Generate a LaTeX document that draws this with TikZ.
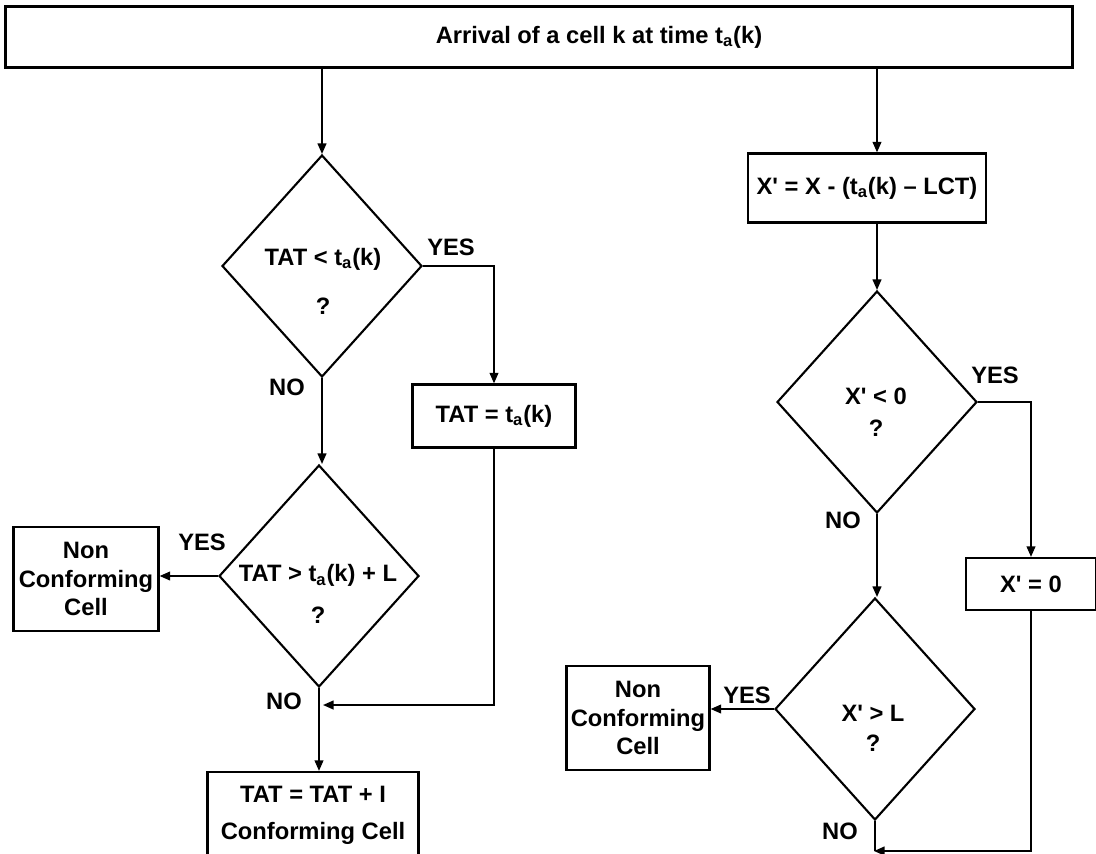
\documentclass[tikz,border=0pt]{standalone}
\usepackage{fontspec}
\setmainfont{Liberation Sans}
\usetikzlibrary{arrows.meta, shapes.geometric}

\newcommand{\pr}{\textquotesingle}

\tikzset{
    txt/.style={font=\fontsize{13.5}{16}\selectfont\bfseries, align=center},
    box/.style={draw, line width=1.3pt, inner sep=0pt, txt},
    decision/.style={draw, diamond, line width=1.2pt, inner sep=0pt, minimum width=4cm, minimum height=4.44cm},
    arr/.style={-{Triangle[length=6pt, width=5pt]}, line width=0.9pt},
    link/.style={line width=0.9pt},
}

\begin{document}
\begin{tikzpicture}[x=0.02cm, y=-0.02cm]
    \useasboundingbox (0,0) rectangle (1096,853);

    % boxes
    \node[box, line width=1.6pt, minimum width=21.36cm, minimum height=1.22cm] at (539,37) (arrival) {\hspace*{2.4cm}Arrival of a cell k at time t\textsubscript{a}(k)};
    \node[box, minimum width=3.26cm, minimum height=1.26cm] at (494,416) (tset) {TAT = t\textsubscript{a}(k)};
    \node[box, minimum width=2.9cm, minimum height=2.08cm] at (86,579) (ncca) {Non\\Conforming\\Cell};
    \node[box, minimum width=4.22cm, minimum height=1.72cm] at (313,815) (upd) {TAT = TAT + I\\[5pt]Conforming Cell};
    \node[box, minimum width=4.76cm, minimum height=1.38cm] at (867,188) (xcalc) {X\pr{} = X - (t\textsubscript{a}(k) -- LCT)};
    \node[box, minimum width=2.6cm, minimum height=1.04cm] at (1031,584) (xzero) {X\pr{} = 0};
    \node[box, minimum width=2.86cm, minimum height=2.08cm] at (638,718) (nccb) {Non\\Conforming\\Cell};

    % decisions
    \node[decision] at (322,266) (da) {};
    \node[decision] at (319,576) (db) {};
    \node[decision] at (877,402) (dc) {};
    \node[decision] at (875,709) (dd) {};

    \node[txt] at (323,281) {TAT < t\textsubscript{a}(k)\\[12pt]?};
    \node[txt] at (318,594) {TAT > t\textsubscript{a}(k) + L\\[8pt]?};
    \node[txt] at (876,412) {X\pr{} < 0\\[2.5pt]?};
    \node[txt] at (873,728) {X\pr{} > L\\[1pt]?};

    % answers
    \node[txt] at (451,247) (ya) {YES};
    \node[txt] at (287,387) (na) {NO};
    \node[txt] at (202,542) (yb) {YES};
    \node[txt] at (284,701) (nb) {NO};
    \node[txt] at (995,375) (yc) {YES};
    \node[txt] at (843,520) (nc) {NO};
    \node[txt] at (747,695) (yd) {YES};
    \node[txt] at (840,831) (nd) {NO};

    \coordinate (ja) at (323,705);
    \coordinate (jb) at (874,851);

    % left branch
    \draw[arr] (arrival.south -| da.north) -- (da.north);
    \draw[arr] (da.east) -| (tset.north);
    \draw[arr] (da.south) -- (da.south |- db.north);
    \draw[arr] (db.west) -- (db.west -| ncca.east);
    \draw[arr] (db.south) -- (db.south |- upd.north);
    \draw[arr] (tset.south) |- (ja);

    % right branch
    \draw[arr] (arrival.south -| dc.north) -- (dc.north |- xcalc.north);
    \draw[arr] (dc.north |- xcalc.south) -- (dc.north);
    \draw[arr] (dc.east) -| (xzero.north);
    \draw[arr] (dc.south) -- (dc.south |- dd.north);
    \draw[arr] (dd.west) -- (dd.west -| nccb.east);
    \draw[link] (dd.south) -- (dd.south |- jb);
    \draw[arr] (xzero.south) |- (jb);
\end{tikzpicture}
\end{document}
